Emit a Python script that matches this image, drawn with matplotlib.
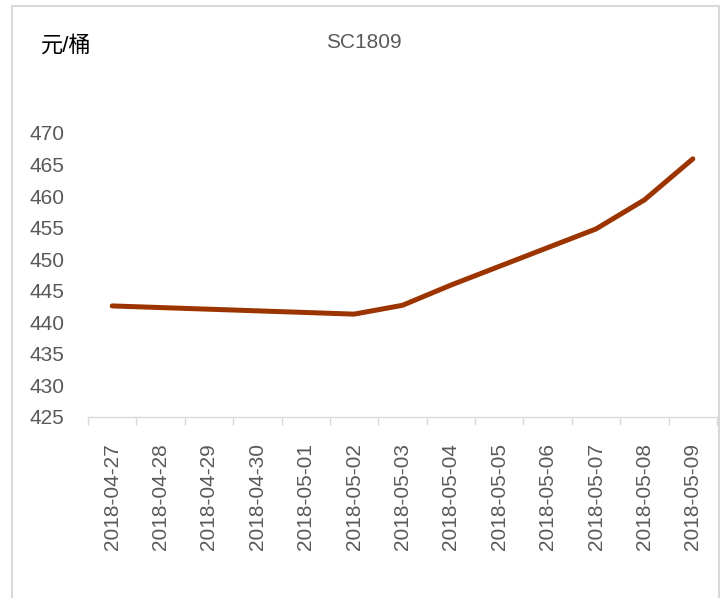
#!/usr/bin/env python

import datetime as dt
import matplotlib
matplotlib.use('Agg')
import matplotlib.pyplot as plt
import matplotlib.ticker as plticker
from matplotlib.patches import Rectangle

# all calendar days on the date axis
AXIS_DATES  = ['2018-04-27', '2018-04-28', '2018-04-29', '2018-04-30', '2018-05-01',
               '2018-05-02', '2018-05-03', '2018-05-04', '2018-05-05', '2018-05-06',
               '2018-05-07', '2018-05-08', '2018-05-09']
# trading days and SC1809 prices
TRADE_DATES = ['2018-04-27', '2018-05-02', '2018-05-03', '2018-05-04',
               '2018-05-07', '2018-05-08', '2018-05-09']
PRICES      = [442.6, 441.3, 442.7, 445.9, 454.8, 459.4, 465.9]
Y_TICKS     = [425, 430, 435, 440, 445, 450, 455, 460, 465, 470]

TITLE      = 'SC1809'
UNIT_LABEL = '元/桶'

LINE_COLOR = '#9C3400'
TEXT_COLOR = '#595959'
AXIS_COLOR = '#d9d9d9'
FONT_SIZE  = 15

plt.rcParams['font.family'] = ['Liberation Sans', 'Noto Sans CJK SC']


def day_offset(dateStr):
    base = dt.date.fromisoformat(AXIS_DATES[0])
    return (dt.date.fromisoformat(dateStr) - base).days


figure = plt.figure(figsize=(7.26, 5.98), dpi=100)
ax = figure.add_axes([88 / 726, 181 / 598, 629 / 726, 284 / 598])

xData = [day_offset(d) for d in TRADE_DATES]
ax.plot(xData, PRICES, color=LINE_COLOR, linewidth=3.6, solid_capstyle='round',
        solid_joinstyle='round')

ax.set_xlim(-0.5, len(AXIS_DATES) - 0.5)
ax.set_ylim(Y_TICKS[0], Y_TICKS[-1])

# y axis: labels only
ax.set_yticks(Y_TICKS)
ax.tick_params(axis='y', length=0, pad=17, labelsize=FONT_SIZE, labelcolor=TEXT_COLOR)

# x axis: tick marks between days, labels centered on days
ax.xaxis.set_major_locator(plticker.FixedLocator([i - 0.5 for i in range(len(AXIS_DATES) + 1)]))
ax.xaxis.set_major_formatter(plticker.NullFormatter())
ax.xaxis.set_minor_locator(plticker.FixedLocator(range(len(AXIS_DATES))))
ax.xaxis.set_minor_formatter(plticker.FixedFormatter(AXIS_DATES))
ax.tick_params(axis='x', which='major', length=6, width=1, color=AXIS_COLOR, direction='out')
ax.tick_params(axis='x', which='minor', length=0, pad=19, labelsize=FONT_SIZE,
               labelcolor=TEXT_COLOR, labelrotation=90)

for side in ['top', 'right', 'left']:
    ax.spines[side].set_visible(False)
ax.spines['bottom'].set_color(AXIS_COLOR)
ax.spines['bottom'].set_linewidth(1)

figure.text(41 / 726, 1 - 46 / 598, UNIT_LABEL, fontsize=16, color='#000000',
            ha='left', va='center')
figure.text(364 / 726, 1 - 43 / 598, TITLE, fontsize=15, color=TEXT_COLOR,
            ha='center', va='center')

# chart area border
figure.patches.append(Rectangle((12 / 726, -0.05), 707 / 726, 1 - 6 / 598 + 0.05,
                                transform=figure.transFigure, fill=False,
                                edgecolor=AXIS_COLOR, linewidth=1.5))

figure.savefig('out.png', dpi=100)
plt.close(figure)
